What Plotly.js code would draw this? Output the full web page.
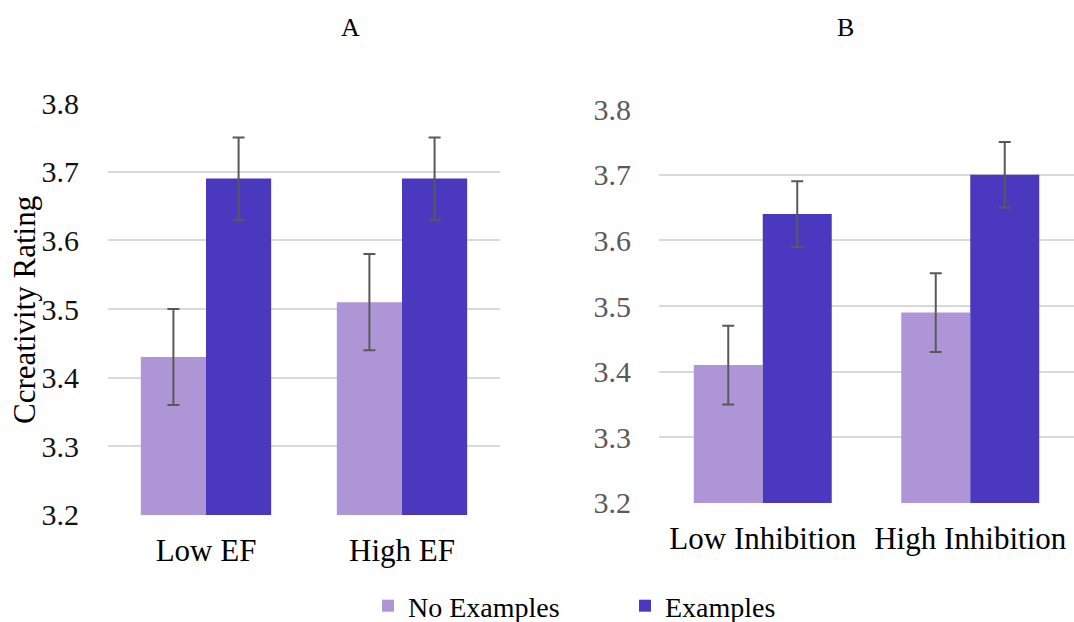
<!DOCTYPE html>
<html>
<head>
<meta charset="utf-8">
<script src="https://cdn.plot.ly/plotly-3.0.1.min.js"></script>
<style>html,body{margin:0;padding:0;background:#fff;}#chart{width:1074px;height:622px;}</style>
</head>
<body>
<div id="chart"></div>
<script>
// ---- data ----
const categoriesA = ["Low EF", "High EF"];
const categoriesB = ["Low Inhibition", "High Inhibition"];
const seriesNames = ["No Examples", "Examples"];
const noExamplesA = [3.43, 3.51];
const examplesA = [3.69, 3.69];
const noExamplesErrA = [0.07, 0.07];
const examplesErrA = [0.06, 0.06];
const noExamplesB = [3.41, 3.49];
const examplesB = [3.64, 3.70];
const noExamplesErrB = [0.06, 0.06];
const examplesErrB = [0.05, 0.05];
const yTickVals = [3.2, 3.3, 3.4, 3.5, 3.6, 3.7, 3.8];
const yTickText = ["3.2", "3.3", "3.4", "3.5", "3.6", "3.7", "3.8"];
const panelTitles = ["A", "B"];
const yTitle = "Ccreativity Rating";

// ---- styles ----
const colLight = "#AE96D6";
const colDark = "#4A39BF";
const errStyle = (arr) => ({type: "data", array: arr, visible: true, color: "#595959", thickness: 2, width: 6});
const FONT = "'Liberation Serif', 'Times New Roman', Times, serif";

const traces = [
  {type: "bar", name: seriesNames[0], x: categoriesA, y: noExamplesA, xaxis: "x", yaxis: "y",
   marker: {color: colLight}, error_y: errStyle(noExamplesErrA), legendgroup: "ne", hoverinfo: "none"},
  {type: "bar", name: seriesNames[1], x: categoriesA, y: examplesA, xaxis: "x", yaxis: "y",
   marker: {color: colDark}, error_y: errStyle(examplesErrA), legendgroup: "e", hoverinfo: "none"},
  {type: "bar", name: seriesNames[0], x: categoriesB, y: noExamplesB, xaxis: "x2", yaxis: "y2",
   marker: {color: colLight}, error_y: errStyle(noExamplesErrB), legendgroup: "ne", showlegend: false, hoverinfo: "none"},
  {type: "bar", name: seriesNames[1], x: categoriesB, y: examplesB, xaxis: "x2", yaxis: "y2",
   marker: {color: colDark}, error_y: errStyle(examplesErrB), legendgroup: "e", showlegend: false, hoverinfo: "none"}
];

const W = 1074, H = 622;
const yAxisCommon = {
  range: [3.1999, 3.8001], tickvals: yTickVals, ticktext: yTickText,
  showgrid: true, gridcolor: "#D9D9D9", gridwidth: 2, zeroline: false, showline: false,
  ticks: "", fixedrange: true
};
const xAxisCommon = {
  type: "category", showgrid: false, zeroline: false, showline: false, ticks: "",
  tickfont: {family: FONT, size: 31, color: "#000"}, ticklabelstandoff: 14, fixedrange: true
};

const layout = {
  width: W, height: H,
  margin: {l: 0, r: 0, t: 0, b: 0, autoexpand: false},
  paper_bgcolor: "#fff", plot_bgcolor: "#fff",
  barmode: "group", bargap: 0.335, bargroupgap: 0,
  font: {family: FONT, color: "#000"},
  xaxis: Object.assign({}, xAxisCommon, {domain: [108 / W, 500 / W], anchor: "y"}),
  xaxis2: Object.assign({}, xAxisCommon, {domain: [659 / W, 1], anchor: "y2"}),
  yaxis: Object.assign({}, yAxisCommon, {domain: [1 - 515 / H, 1 - 103 / H], anchor: "x",
    ticklabelstandoff: 28, tickfont: {family: FONT, size: 30, color: "#111"}}),
  yaxis2: Object.assign({}, yAxisCommon, {domain: [1 - 503 / H, 1 - 109 / H], anchor: "x2",
    ticklabelstandoff: 27, tickfont: {family: FONT, size: 30, color: "#595959"}}),
  showlegend: true,
  legend: {orientation: "h", x: 368 / W, xanchor: "left", y: 1 - 606 / H, yanchor: "middle",
    font: {family: FONT, size: 28, color: "#000"}, entrywidth: 212, traceorder: "normal",
    bgcolor: "rgba(0,0,0,0)"},
  annotations: [
    {text: panelTitles[0], xref: "paper", yref: "paper", x: 350 / W, y: 1 - 27 / H, showarrow: false,
     xanchor: "center", yanchor: "middle", font: {family: FONT, size: 26, color: "#000"}},
    {text: panelTitles[1], xref: "paper", yref: "paper", x: 845 / W, y: 1 - 27 / H, showarrow: false,
     xanchor: "center", yanchor: "middle", font: {family: FONT, size: 26, color: "#000"}},
    {text: yTitle, xref: "paper", yref: "paper", x: 24 / W, y: 1 - 310 / H, showarrow: false,
     textangle: -90, xanchor: "center", yanchor: "middle", font: {family: FONT, size: 31, color: "#000"}}
  ]
};

Plotly.newPlot("chart", traces, layout, {displayModeBar: false, staticPlot: true});
</script>
</body>
</html>
